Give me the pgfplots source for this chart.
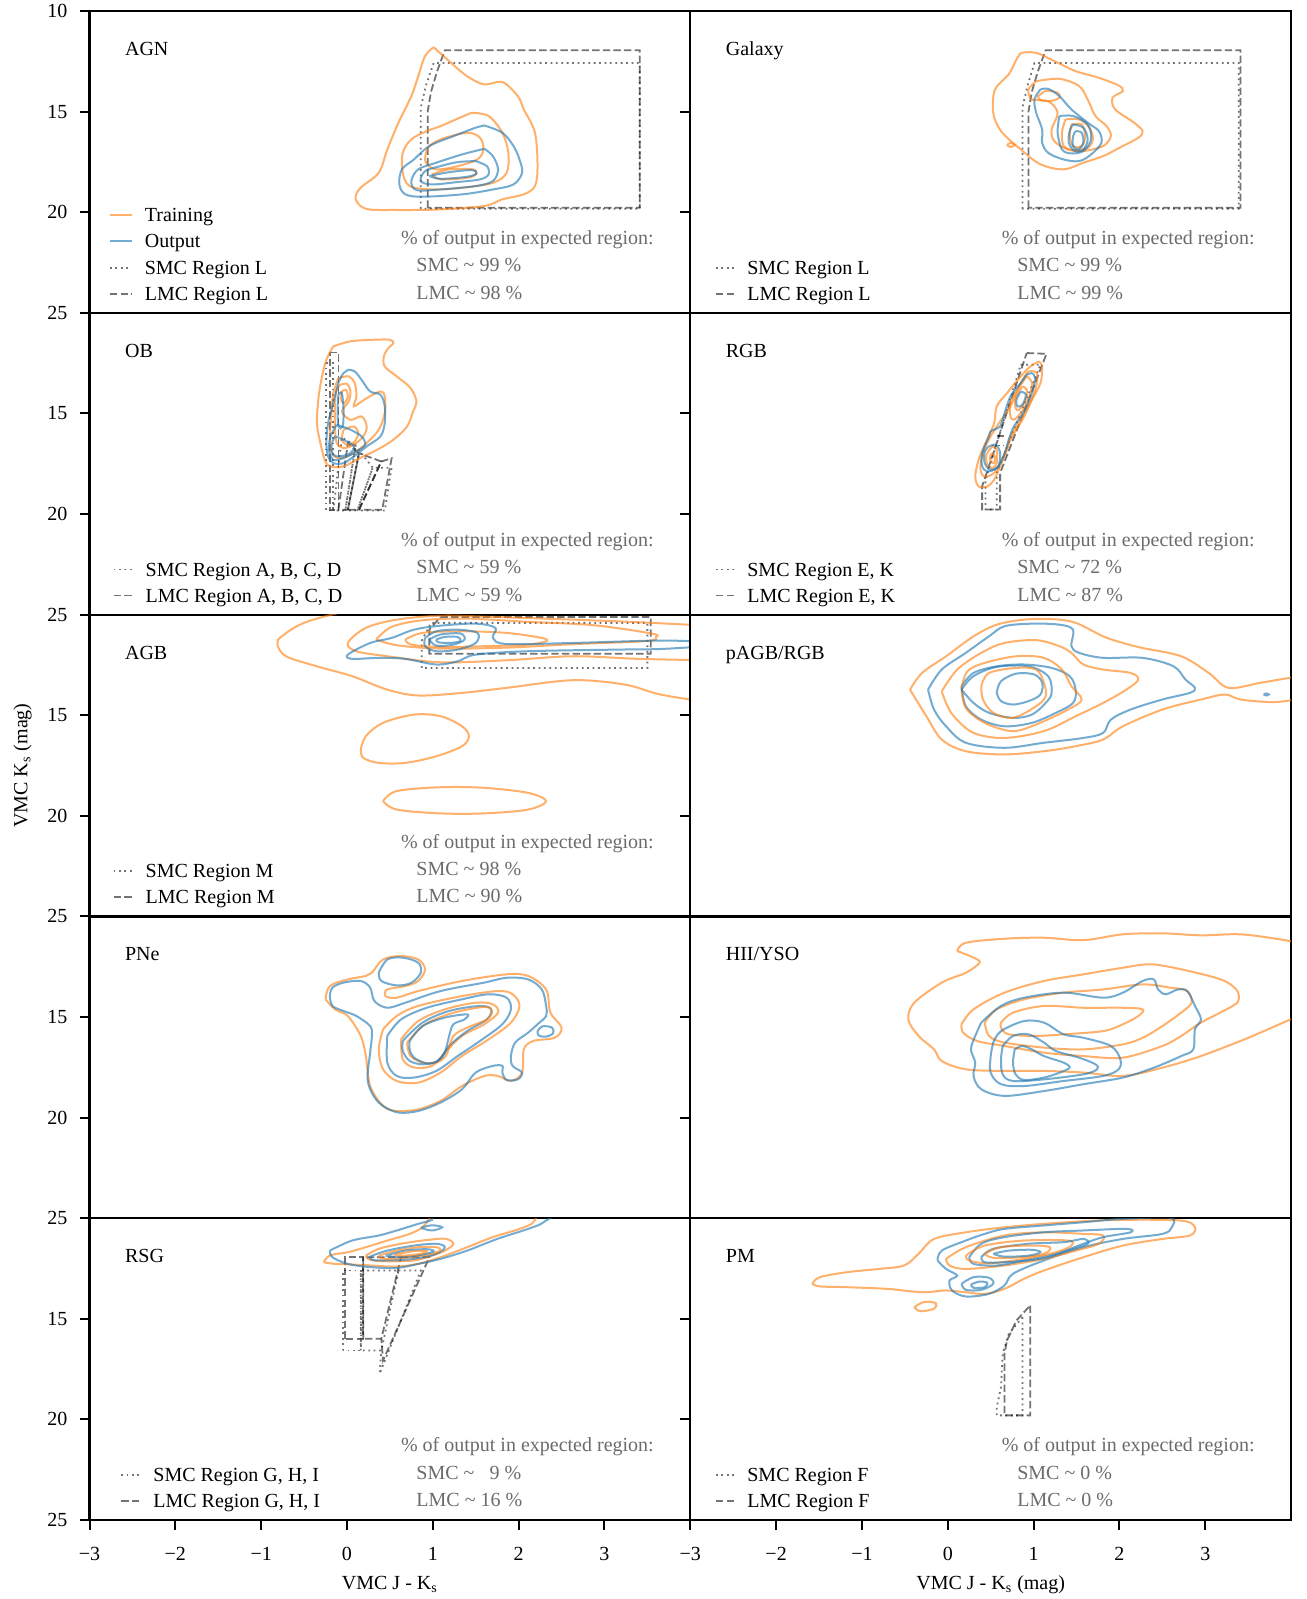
\documentclass[border=0pt]{standalone}
\usepackage{fontspec}
\setmainfont{Liberation Serif}
\usepackage{pgfplots}
\pgfplotsset{compat=1.18}
\usepgfplotslibrary{groupplots}
\usetikzlibrary{calc}

\definecolor{tabor}{HTML}{FF7F0E}
\definecolor{tabbl}{HTML}{1F77B4}

\pgfplotsset{
  train/.style={draw=tabor, draw opacity=0.62, line width=1.0pt, smooth, tension=0.55},
  outp/.style={draw=tabbl, draw opacity=0.62, line width=1.0pt, smooth, tension=0.55},
  smcreg/.style={draw=black, draw opacity=0.55, line width=0.9pt, dash pattern=on 0.9pt off 1.8pt},
  lmcreg/.style={draw=black, draw opacity=0.55, line width=0.9pt, dash pattern=on 3.7pt off 1.6pt},
  rightcol/.style={yticklabels={}},
}
\tikzset{
  legtxt/.style={anchor=base west, inner sep=0pt, font=\fontsize{10}{12}\selectfont},
  pcttxt/.style={legtxt, text=black!58},
}

% class name in the upper left corner of a panel
\newcommand{\classlabel}[1]{\node[legtxt] at (axis cs:-2.59,12.21) {#1};}
% fraction of the output inside the expected region
\newcommand{\pct}[2]{%
  \node[pcttxt] at (axis cs:0.625,21.60) {\% of output in expected region:};
  \node[pcttxt] at (axis cs:0.805,22.97) {SMC \textasciitilde\ #1 \%};
  \node[pcttxt] at (axis cs:0.805,24.33) {LMC \textasciitilde\ #2 \%};
}
% key for the SMC / LMC region outlines
\newcommand{\regleg}[5]{%
  \addplot[smcreg] coordinates {(#1,22.76) (#2,22.76)};
  \addplot[lmcreg] coordinates {(#1,24.05) (#2,24.05)};
  \node[legtxt] at (axis cs:#3,23.09) {#4};
  \node[legtxt] at (axis cs:#3,24.38) {#5};
}

\begin{document}
\begin{tikzpicture}
\begin{groupplot}[
  group style={group size=2 by 5, horizontal sep=0pt, vertical sep=0pt},
  scale only axis, width=300.4pt, height=150.9pt,
  xmin=-3, xmax=4, ymin=10, ymax=25, y dir=reverse,
  axis line style={line width=1.1pt},
  tick align=outside, major tick length=5pt,
  every tick/.style={black, line width=1pt},
  xtick={-3,...,3}, xticklabels={−3,−2,−1,0,1,2,3},
  xtick pos=left, ytick pos=left,
  ytick={15,20,25},
  tick label style={font=\fontsize{10}{12}\selectfont},
  xticklabel style={yshift=-5pt},
  yticklabel style={xshift=-2.5pt},
  /pgf/number format/assume math mode=true,
  label style={font=\fontsize{10}{12}\selectfont},
]

% ---------------- AGN ----------------
\nextgroupplot[xmajorticks=false, ytick={10,15,20,25}]
\coordinate (TL) at (axis cs:-3,10);
\classlabel{AGN}
\addplot[lmcreg] coordinates {(0.94,19.78) (0.94,15.0) (0.98,14.0) (1.05,13.0) (1.14,11.95) (3.41,11.95) (3.41,19.78) (0.94,19.78)};
\addplot[smcreg] coordinates {(0.86,19.83) (0.86,14.8) (0.92,13.7) (1.01,12.58) (3.41,12.58) (3.41,19.83) (0.86,19.83)};
\addplot[train] coordinates {(1.01,11.80) (1.19,12.49) (1.40,13.24) (1.60,13.65) (1.81,13.53) (1.99,14.23) (2.06,14.89) (2.19,16.05) (2.22,17.71) (2.19,18.70) (2.06,19.11) (1.81,19.36) (1.60,19.69) (1.09,19.86) (0.57,19.89) (0.22,19.83) (0.10,19.33) (0.16,18.78) (0.37,18.04) (0.47,16.88) (0.60,15.55) (0.75,14.23) (0.83,13.24) (0.91,12.24) (1.01,11.80)};
\addplot[train] coordinates {(1.45,15.06) (1.65,15.22) (1.81,16.05) (1.88,17.05) (1.86,18.04) (1.70,18.54) (1.35,18.78) (0.99,18.87) (0.73,18.70) (0.65,18.04) (0.65,17.05) (0.75,16.38) (0.93,15.97) (1.09,15.72) (1.29,15.35) (1.45,15.06)};
\addplot[train] coordinates {(0.96,16.71) (1.09,16.38) (1.40,16.05) (1.55,16.30) (1.59,16.88) (1.52,17.37) (1.29,17.71) (1.04,17.87) (0.92,17.54) (0.92,17.05) (0.96,16.71)};
\addplot[train] coordinates {(0.99,18.12) (1.19,17.87) (1.47,17.87) (1.50,18.12) (1.40,18.29) (1.09,18.37) (0.99,18.12)};
\addplot[outp] coordinates {(1.60,15.69) (1.81,16.05) (1.94,16.71) (2.01,17.38) (2.04,18.04) (1.94,18.62) (1.70,18.87) (1.35,19.11) (0.88,19.23) (0.68,19.11) (0.61,18.62) (0.64,17.87) (0.78,17.38) (0.96,16.71) (1.24,16.22) (1.50,15.80) (1.60,15.69)};
\addplot[outp] coordinates {(1.60,16.85) (1.70,17.21) (1.76,17.87) (1.70,18.45) (1.50,18.70) (1.09,18.87) (0.81,18.90) (0.75,18.45) (0.83,17.87) (1.04,17.54) (1.34,17.13) (1.60,16.85)};
\addplot[outp] coordinates {(1.50,17.46) (1.63,17.71) (1.65,18.12) (1.55,18.37) (1.29,18.50) (0.99,18.62) (0.86,18.45) (0.91,17.96) (1.09,17.71) (1.29,17.51) (1.50,17.46)};
\addplot[outp] coordinates {(0.96,18.20) (1.19,18.01) (1.45,17.91) (1.51,18.07) (1.40,18.24) (1.09,18.34) (0.96,18.20)};
\addplot[train] coordinates {(-2.76,20.15) (-2.51,20.15)};
\addplot[outp] coordinates {(-2.76,21.45) (-2.51,21.45)};
\node[legtxt] at (axis cs:-2.36,20.47) {Training};
\node[legtxt] at (axis cs:-2.36,21.77) {Output};
\regleg{-2.76}{-2.51}{-2.36}{SMC Region L}{LMC Region L}
\pct{99}{98}

% ---------------- Galaxy ----------------
\nextgroupplot[xmajorticks=false, rightcol]
\classlabel{Galaxy}
\addplot[lmcreg] coordinates {(0.94,19.78) (0.94,15.0) (0.98,14.0) (1.05,13.0) (1.14,11.95) (3.41,11.95) (3.41,19.78) (0.94,19.78)};
\addplot[smcreg] coordinates {(0.87,19.83) (0.87,14.8) (0.93,13.7) (1.01,12.58) (3.39,12.58) (3.39,19.83) (0.87,19.83)};
\addplot[train] coordinates {(0.85,12.08) (1.03,12.08) (1.28,12.57) (1.49,12.99) (1.76,13.32) (1.99,13.70) (2.04,13.98) (1.92,14.31) (1.95,14.89) (2.17,15.55) (2.27,15.97) (2.22,16.30) (2.04,16.71) (1.81,17.21) (1.58,17.54) (1.35,17.87) (1.08,17.62) (0.85,16.88) (0.62,15.97) (0.53,15.06) (0.55,13.90) (0.71,13.15) (0.80,12.41) (0.85,12.08)};
\addplot[train] coordinates {(0.69,16.66) (0.73,16.56) (0.78,16.66) (0.73,16.76) (0.69,16.66)};
\addplot[train] coordinates {(1.03,13.49) (1.30,13.37) (1.53,13.73) (1.63,14.40) (1.72,15.22) (1.85,15.72) (1.90,16.22) (1.81,16.71) (1.58,16.96) (1.40,16.88) (1.24,16.47) (1.21,15.89) (1.28,15.06) (1.17,14.48) (0.98,14.40) (0.94,13.90) (1.03,13.49)};
\addplot[train] coordinates {(1.05,14.26) (1.14,13.98) (1.28,14.06) (1.30,14.31) (1.19,14.48) (1.08,14.43) (1.05,14.26)};
\addplot[train] coordinates {(1.37,15.39) (1.53,15.39) (1.65,15.80) (1.69,16.38) (1.63,16.80) (1.46,16.91) (1.35,16.71) (1.33,16.05) (1.37,15.39)};
\addplot[train] coordinates {(1.44,15.64) (1.56,15.64) (1.60,16.22) (1.56,16.71) (1.46,16.71) (1.42,16.22) (1.44,15.64)};
\addplot[outp] coordinates {(1.08,13.90) (1.17,13.87) (1.30,14.23) (1.44,14.89) (1.63,15.55) (1.76,15.97) (1.79,16.55) (1.67,17.13) (1.53,17.46) (1.35,17.38) (1.17,17.05) (1.10,16.55) (1.10,15.89) (1.03,15.06) (1.01,14.40) (1.08,13.90)};
\addplot[outp] coordinates {(1.30,15.22) (1.46,15.22) (1.63,15.64) (1.67,16.38) (1.58,16.96) (1.44,17.08) (1.33,16.88) (1.28,16.05) (1.30,15.22)};
\addplot[outp] coordinates {(1.46,15.64) (1.58,15.80) (1.63,16.38) (1.58,16.88) (1.48,16.96) (1.41,16.55) (1.42,15.97) (1.46,15.64)};
\addplot[outp] coordinates {(1.49,15.97) (1.56,16.05) (1.58,16.55) (1.52,16.88) (1.46,16.71) (1.46,16.22) (1.49,15.97)};
\regleg{-2.70}{-2.47}{-2.34}{SMC Region L}{LMC Region L}
\pct{99}{99}

% ---------------- OB ----------------
\nextgroupplot[xmajorticks=false]
\classlabel{OB}
\addplot[lmcreg] coordinates {(-0.20,11.97) (-0.10,11.97) (-0.10,19.79) (-0.20,19.79) (-0.20,11.97)};
\addplot[lmcreg] coordinates {(-0.10,19.79) (0.01,16.48) (0.14,16.98) (0.01,19.79) (-0.10,19.79)};
\addplot[lmcreg] coordinates {(0.01,19.79) (0.14,16.98) (0.40,17.39) (0.14,19.79) (0.01,19.79)};
\addplot[lmcreg] coordinates {(0.14,19.79) (0.40,17.39) (0.52,17.23) (0.41,19.79) (0.14,19.79)};
\addplot[smcreg] coordinates {(-0.24,12.5) (-0.16,12.5) (-0.16,19.83) (-0.24,19.83) (-0.24,12.5)};
\addplot[smcreg] coordinates {(-0.16,19.83) (-0.06,16.2) (0.10,16.6) (-0.02,19.83) (-0.16,19.83)};
\addplot[smcreg] coordinates {(-0.02,19.83) (0.10,16.6) (0.30,17.7) (0.12,19.83) (-0.02,19.83)};
\addplot[smcreg] coordinates {(0.12,19.83) (0.30,17.7) (0.52,17.7) (0.44,19.83) (0.12,19.83)};
\addplot[train] coordinates {(-0.16,11.67) (0.04,11.42) (0.31,11.34) (0.50,11.34) (0.54,11.51) (0.48,11.76) (0.43,12.17) (0.44,12.67) (0.58,13.16) (0.74,13.74) (0.81,14.41) (0.77,14.90) (0.70,15.65) (0.54,16.31) (0.35,16.81) (0.15,17.22) (-0.04,17.63) (-0.20,17.63) (-0.26,17.30) (-0.31,16.47) (-0.35,15.48) (-0.33,14.16) (-0.29,13.16) (-0.24,12.33) (-0.16,11.67)};
\addplot[train] coordinates {(-0.10,13.25) (0.02,13.16) (0.09,13.49) (0.11,14.16) (0.08,14.65) (0.23,14.24) (0.39,13.91) (0.44,14.16) (0.44,14.98) (0.37,15.81) (0.23,16.47) (0.08,16.97) (-0.08,17.22) (-0.18,16.97) (-0.20,16.14) (-0.18,14.98) (-0.16,13.99) (-0.10,13.25)};
\addplot[train] coordinates {(-0.08,13.58) (0.00,13.53) (0.04,13.91) (0.02,14.41) (-0.06,14.90) (0.04,15.32) (0.17,15.15) (0.23,15.65) (0.19,16.14) (0.08,16.56) (-0.04,16.72) (-0.12,16.47) (-0.14,15.65) (-0.14,14.49) (-0.12,13.83) (-0.08,13.58)};
\addplot[train] coordinates {(-0.06,13.91) (-0.01,13.83) (0.01,14.16) (-0.03,14.49) (-0.07,14.32) (-0.06,13.91)};
\addplot[train] coordinates {(-0.04,15.81) (0.08,15.65) (0.13,15.98) (0.09,16.39) (0.00,16.56) (-0.06,16.31) (-0.04,15.81)};
\addplot[outp] coordinates {(0.02,12.83) (0.09,12.91) (0.17,13.33) (0.27,13.91) (0.39,14.07) (0.44,14.65) (0.44,15.48) (0.39,16.14) (0.23,16.64) (0.08,17.14) (-0.04,17.47) (-0.16,17.47) (-0.22,17.14) (-0.24,16.47) (-0.22,15.48) (-0.16,14.49) (-0.10,13.49) (-0.04,13.00) (0.02,12.83)};
\addplot[outp] coordinates {(-0.12,15.56) (-0.06,15.65) (0.04,15.81) (0.17,16.14) (0.21,16.56) (0.11,16.89) (-0.04,17.22) (-0.16,17.30) (-0.21,16.81) (-0.19,16.14) (-0.12,15.56)};
\addplot[outp] coordinates {(-0.14,16.14) (-0.04,16.31) (0.08,16.64) (0.04,16.97) (-0.08,17.14) (-0.16,17.05) (-0.18,16.56) (-0.14,16.14)};
\addplot[outp] coordinates {(-0.10,14.07) (-0.06,13.99) (-0.04,14.82) (-0.05,15.65) (-0.10,15.65) (-0.11,14.82) (-0.10,14.07)};
\regleg{-2.72}{-2.50}{-2.35}{SMC Region A, B, C, D}{LMC Region A, B, C, D}
\pct{59}{59}

% ---------------- RGB ----------------
\nextgroupplot[xmajorticks=false, rightcol]
\classlabel{RGB}
\addplot[lmcreg] coordinates {(0.92,12.0) (1.15,12.04) (0.61,17.96) (0.61,19.78) (0.40,19.78) (0.40,18.63) (0.92,12.0)};
\addplot[lmcreg] coordinates {(0.57,16.14) (0.69,16.14)};
\addplot[smcreg] coordinates {(0.85,12.58) (1.08,12.58) (0.57,17.96) (0.57,19.78) (0.44,19.78) (0.44,18.3) (0.85,12.58)};
\addplot[smcreg] coordinates {(0.52,16.6) (0.66,16.6)};
\addplot[train] coordinates {(1.06,12.42) (1.10,12.67) (1.08,13.49) (0.98,14.32) (0.85,15.31) (0.73,16.14) (0.69,16.80) (0.61,17.63) (0.54,18.29) (0.46,18.63) (0.36,18.63) (0.32,18.13) (0.36,17.30) (0.44,16.47) (0.54,15.48) (0.57,14.65) (0.69,13.99) (0.85,13.16) (0.96,12.67) (1.06,12.42)};
\addplot[train] coordinates {(0.94,12.91) (1.04,13.00) (1.02,13.82) (0.89,15.15) (0.73,16.31) (0.63,17.30) (0.54,17.96) (0.42,18.13) (0.38,17.63) (0.44,16.64) (0.57,15.65) (0.73,14.65) (0.85,13.49) (0.94,12.91)};
\addplot[train] coordinates {(0.92,13.16) (0.98,13.49) (0.94,14.32) (0.85,14.98) (0.77,15.31) (0.73,15.15) (0.73,14.49) (0.81,13.82) (0.92,13.16)};
\addplot[train] coordinates {(0.87,13.66) (0.92,13.82) (0.91,14.32) (0.83,14.82) (0.79,14.74) (0.79,14.24) (0.87,13.66)};
\addplot[train] coordinates {(0.52,16.64) (0.57,16.80) (0.57,17.47) (0.52,17.72) (0.46,17.55) (0.45,17.05) (0.52,16.64)};
\addplot[train] coordinates {(0.52,16.97) (0.55,17.14) (0.54,17.47) (0.50,17.38) (0.49,17.14) (0.52,16.97)};
\addplot[outp] coordinates {(0.98,13.00) (1.02,13.24) (0.98,13.99) (0.89,14.90) (0.77,15.65) (0.71,16.31) (0.65,17.14) (0.57,17.71) (0.46,17.88) (0.40,17.63) (0.40,16.97) (0.48,16.14) (0.50,15.89) (0.61,15.65) (0.65,15.15) (0.73,14.16) (0.85,13.49) (0.92,13.08) (0.98,13.00)};
\addplot[outp] coordinates {(0.85,13.91) (0.91,14.07) (0.87,14.57) (0.81,14.65) (0.80,14.32) (0.85,13.91)};
\addplot[outp] coordinates {(0.48,16.64) (0.56,16.56) (0.61,16.97) (0.59,17.63) (0.50,17.80) (0.43,17.47) (0.43,16.89) (0.48,16.64)};
\regleg{-2.70}{-2.47}{-2.34}{SMC Region E, K}{LMC Region E, K}
\pct{72}{87}

% ---------------- AGB ----------------
\nextgroupplot[xmajorticks=false, ylabel={VMC K\textsubscript{s} (mag)},
  ylabel style={at={($(axis cs:-3,17.5)+(-33.5pt,0pt)$)}, anchor=center}]
\classlabel{AGB}
\addplot[lmcreg] coordinates {(1.09,10.12) (3.54,10.12) (3.54,11.95) (0.96,11.95) (0.96,10.74) (1.09,10.12)};
\addplot[smcreg] coordinates {(0.87,12.65) (0.87,11.3) (0.98,10.41) (3.50,10.41) (3.50,12.65) (0.87,12.65)};
\addplot[train] coordinates {(0.30,9.50) (-0.45,10.33) (-0.76,11.08) (-0.81,11.49) (-0.71,12.07) (-0.35,12.57) (0.06,13.06) (0.47,13.73) (0.83,14.02) (1.34,13.89) (1.86,13.64) (2.63,13.26) (3.24,13.48) (3.65,13.97) (4.20,14.35)};
\addplot[train] coordinates {(4.20,10.55) (3.40,10.38) (2.63,10.25) (1.60,10.10) (1.09,10.05) (0.58,10.25) (0.22,10.66) (0.01,11.41) (0.11,11.82) (0.47,12.07) (1.09,12.37) (1.86,12.27) (2.63,12.07) (3.40,12.20) (4.20,12.27)};
\addplot[train] coordinates {(0.34,11.24) (0.52,10.61) (0.88,10.28) (1.40,10.20) (2.11,10.36) (2.88,10.53) (3.55,10.94) (3.60,11.11) (3.50,11.31) (2.63,11.47) (1.86,11.64) (1.09,11.69) (0.58,11.52) (0.34,11.24)};
\addplot[train] coordinates {(0.68,11.24) (0.88,10.91) (1.34,10.83) (1.86,10.91) (2.27,11.16) (2.32,11.32) (2.11,11.49) (1.60,11.57) (1.09,11.61) (0.75,11.49) (0.68,11.24)};
\addplot[outp] coordinates {(4.20,11.36) (3.65,11.29) (2.63,11.41) (1.86,11.46) (1.70,11.16) (1.73,10.66) (1.50,10.45) (1.09,10.55) (0.78,10.75) (0.52,11.16) (0.27,11.41) (0.01,11.99) (0.06,12.20) (0.37,12.15) (0.68,12.20) (1.04,12.48) (1.29,12.32) (1.50,11.99) (2.11,11.82) (3.14,11.74) (3.65,11.71) (4.20,11.57)};
\addplot[outp] coordinates {(0.91,11.16) (1.04,10.83) (1.29,10.75) (1.52,10.91) (1.50,11.41) (1.29,11.74) (1.04,11.82) (0.91,11.57) (0.91,11.16)};
\addplot[outp] coordinates {(0.96,11.24) (1.09,10.99) (1.32,10.94) (1.37,11.24) (1.24,11.49) (1.04,11.54) (0.96,11.24)};
\addplot[outp] coordinates {(1.04,11.24) (1.14,11.11) (1.29,11.11) (1.32,11.32) (1.19,11.41) (1.06,11.37) (1.04,11.24)};
\addplot[train] coordinates {(0.16,16.71) (0.22,16.04) (0.42,15.38) (0.78,14.97) (1.09,15.05) (1.34,15.55) (1.42,16.04) (1.34,16.54) (1.04,17.04) (0.68,17.37) (0.37,17.37) (0.19,17.12) (0.16,16.71)};
\addplot[train] coordinates {(0.42,19.27) (0.58,18.77) (1.09,18.58) (1.60,18.61) (2.11,18.86) (2.32,19.27) (2.11,19.69) (1.60,19.88) (1.09,19.88) (0.58,19.69) (0.42,19.27)};
\regleg{-2.72}{-2.50}{-2.35}{SMC Region M}{LMC Region M}
\pct{98}{90}

% ---------------- pAGB/RGB ----------------
\nextgroupplot[xmajorticks=false, rightcol]
\classlabel{pAGB/RGB}
\addplot[train] coordinates {(-0.44,13.73) (-0.30,12.90) (-0.02,12.07) (0.30,11.08) (0.57,10.50) (0.89,10.25) (1.21,10.22) (1.49,10.41) (1.81,11.08) (2.04,11.41) (2.27,11.66) (2.72,12.07) (3.04,12.90) (3.27,13.64) (3.64,13.39) (4.05,13.10) (4.30,13.00)};
\addplot[train] coordinates {(4.30,14.30) (4.05,14.25) (3.78,14.35) (3.41,14.22) (3.23,13.97) (2.95,14.22) (2.50,14.72) (2.04,15.55) (1.81,16.21) (1.49,16.54) (1.12,16.79) (0.66,16.95) (0.21,16.79) (-0.07,16.21) (-0.25,15.05) (-0.44,13.73)};
\addplot[outp] coordinates {(-0.23,13.73) (-0.07,12.73) (0.21,11.90) (0.48,11.08) (0.66,10.58) (0.98,10.45) (1.30,10.50) (1.46,10.75) (1.44,11.57) (1.53,11.90) (1.81,12.15) (2.27,12.15) (2.63,12.57) (2.77,13.23) (2.88,13.64) (2.82,13.89) (2.50,14.22) (2.13,14.72) (1.90,15.22) (1.81,15.88) (1.58,16.13) (1.12,16.37) (0.66,16.62) (0.21,16.37) (-0.02,15.55) (-0.16,14.72) (-0.23,13.73)};
\addplot[train] coordinates {(-0.07,13.81) (0.11,12.73) (0.39,11.90) (0.66,11.41) (1.03,11.27) (1.30,11.57) (1.44,11.90) (1.58,12.48) (1.81,12.73) (2.13,12.90) (2.22,13.23) (2.08,13.73) (1.81,14.39) (1.49,15.05) (1.12,15.79) (0.66,16.13) (0.30,15.88) (0.07,15.05) (-0.02,14.39) (-0.07,13.81)};
\addplot[outp] coordinates {(0.16,13.56) (0.30,12.90) (0.57,12.57) (0.89,12.48) (1.21,12.65) (1.42,13.06) (1.49,13.73) (1.46,14.39) (1.26,14.88) (0.98,15.38) (0.66,15.55) (0.39,15.22) (0.21,14.55) (0.16,13.56)};
\addplot[train] coordinates {(0.16,13.64) (0.23,12.81) (0.43,12.40) (0.80,12.07) (1.12,12.15) (1.33,12.73) (1.44,13.56) (1.56,14.22) (1.40,14.72) (1.03,15.46) (0.75,15.79) (0.43,15.38) (0.21,14.64) (0.16,13.64)};
\addplot[outp] coordinates {(0.16,13.73) (0.30,13.06) (0.57,12.60) (0.94,12.57) (1.17,13.06) (1.21,13.89) (1.14,14.39) (0.98,14.97) (0.76,15.13) (0.48,14.88) (0.30,14.39) (0.16,13.73)};
\addplot[train] coordinates {(0.39,13.56) (0.48,12.90) (0.80,12.65) (1.03,12.73) (1.12,13.39) (1.14,14.06) (1.03,14.55) (0.76,15.13) (0.53,14.88) (0.41,14.22) (0.39,13.56)};
\addplot[outp] coordinates {(0.57,13.89) (0.62,13.31) (0.80,12.93) (1.01,12.98) (1.10,13.39) (1.08,13.97) (0.94,14.30) (0.76,14.47) (0.62,14.30) (0.57,13.89)};
\addplot[outp] coordinates {(3.68,13.97) (3.71,13.92) (3.74,13.97) (3.71,14.02) (3.68,13.97)};

% ---------------- PNe ----------------
\nextgroupplot[xmajorticks=false]
\classlabel{PNe}
\addplot[train] coordinates {(-0.25,14.12) (-0.20,13.46) (0.01,13.13) (0.22,12.96) (0.29,12.80) (0.42,12.14) (0.63,11.97) (0.83,12.14) (0.91,12.63) (0.83,13.21) (0.68,13.46) (0.47,13.63) (0.45,13.96) (0.58,14.04) (0.83,13.71) (1.34,13.21) (1.86,12.88) (2.11,12.96) (2.32,13.63) (2.37,14.78) (2.50,15.53) (2.42,16.03) (2.17,16.19) (2.06,16.61) (2.04,17.76) (1.91,18.18) (1.76,17.93) (1.60,17.93) (1.34,18.43) (1.09,19.17) (0.83,19.59) (0.58,19.67) (0.42,19.42) (0.27,18.43) (0.22,16.94) (0.16,15.94) (0.01,14.95) (-0.14,14.62) (-0.25,14.12)};
\addplot[outp] coordinates {(0.37,12.80) (0.47,12.14) (0.65,12.05) (0.83,12.30) (0.86,12.80) (0.75,13.30) (0.58,13.43) (0.40,13.21) (0.37,12.80)};
\addplot[outp] coordinates {(-0.20,13.96) (-0.17,13.54) (-0.04,13.29) (0.16,13.21) (0.27,13.54) (0.32,14.21) (0.47,14.54) (0.68,14.29) (1.09,13.71) (1.60,13.29) (1.86,13.05) (2.11,13.13) (2.27,13.63) (2.32,14.45) (2.32,14.95) (2.22,15.36) (2.11,15.78) (1.96,16.27) (1.91,16.94) (1.93,17.43) (2.04,17.76) (1.99,18.10) (1.86,18.13) (1.81,17.76) (1.81,17.43) (1.70,17.43) (1.50,17.76) (1.34,18.59) (1.09,19.25) (0.83,19.67) (0.60,19.75) (0.42,19.42) (0.31,18.92) (0.24,18.10) (0.27,16.77) (0.29,15.94) (0.27,15.45) (0.11,14.95) (-0.04,14.70) (-0.17,14.45) (-0.20,13.96)};
\addplot[outp] coordinates {(2.22,15.70) (2.28,15.46) (2.39,15.53) (2.40,15.82) (2.31,15.98) (2.23,15.91) (2.22,15.70)};
\addplot[train] coordinates {(0.42,15.61) (0.58,14.95) (0.83,14.45) (1.34,13.96) (1.76,13.71) (1.93,13.87) (2.01,14.45) (1.91,15.28) (1.65,16.11) (1.34,16.94) (1.09,17.76) (0.83,18.26) (0.58,18.18) (0.42,17.60) (0.37,16.61) (0.42,15.61)};
\addplot[outp] coordinates {(0.47,15.94) (0.63,15.12) (0.93,14.54) (1.34,14.12) (1.65,13.87) (1.86,14.04) (1.91,14.62) (1.81,15.36) (1.55,16.19) (1.29,16.94) (1.04,17.68) (0.78,18.01) (0.58,17.93) (0.47,17.27) (0.47,15.94)};
\addplot[train] coordinates {(0.63,16.11) (0.83,15.20) (1.14,14.62) (1.50,14.29) (1.70,14.37) (1.76,14.78) (1.60,15.36) (1.34,15.94) (1.14,16.77) (0.99,17.43) (0.78,17.51) (0.65,17.10) (0.63,16.11)};
\addplot[outp] coordinates {(0.65,16.19) (0.88,15.28) (1.19,14.70) (1.55,14.45) (1.68,14.62) (1.63,15.12) (1.40,15.70) (1.19,16.44) (1.06,17.18) (0.88,17.35) (0.73,17.18) (0.65,16.69) (0.65,16.19)};
\addplot[train] coordinates {(0.70,16.28) (0.91,15.37) (1.24,14.79) (1.60,14.50) (1.69,14.70) (1.63,15.12) (1.40,15.53) (1.24,15.94) (1.17,16.77) (1.09,17.18) (0.91,17.30) (0.74,16.94) (0.70,16.28)};
\addplot[outp] coordinates {(0.73,16.19) (0.88,15.45) (1.14,15.03) (1.40,14.87) (1.37,15.12) (1.24,15.36) (1.19,15.94) (1.14,16.77) (1.06,17.18) (0.93,17.30) (0.78,17.02) (0.73,16.61) (0.73,16.19)};

% ---------------- HII/YSO ----------------
\nextgroupplot[xmajorticks=false, rightcol]
\classlabel{HII/YSO}
\addplot[train] coordinates {(0.11,11.72) (0.21,11.31) (0.66,11.11) (1.12,11.06) (1.58,11.18) (2.04,10.89) (2.50,10.84) (2.95,10.94) (3.41,10.89) (3.87,11.14) (4.20,11.40)};
\addplot[train] coordinates {(4.20,14.80) (4.07,14.98) (3.64,15.78) (3.41,16.19) (2.95,16.94) (2.50,17.52) (2.04,17.93) (1.58,17.76) (1.12,17.68) (0.66,17.68) (0.21,17.60) (-0.07,17.19) (-0.16,16.61) (-0.34,15.94) (-0.46,15.12) (-0.39,14.29) (-0.07,13.29) (0.21,12.80) (0.37,12.30) (0.30,12.05) (0.11,11.72)};
\addplot[train] coordinates {(0.16,15.36) (0.30,14.62) (0.66,13.79) (1.12,13.21) (1.58,12.88) (2.04,12.55) (2.36,12.38) (2.72,12.63) (3.18,13.13) (3.36,13.63) (3.39,14.12) (3.32,14.45) (2.95,15.28) (2.72,15.94) (2.50,16.44) (2.04,17.02) (1.58,16.94) (1.12,16.77) (0.66,16.44) (0.34,16.19) (0.18,15.78) (0.16,15.36)};
\addplot[train] coordinates {(0.43,15.28) (0.57,14.62) (0.89,14.12) (1.35,13.79) (1.81,13.63) (2.27,13.38) (2.59,13.54) (2.79,13.71) (2.84,14.29) (2.72,14.78) (2.50,15.45) (2.27,16.03) (2.04,16.36) (1.58,16.61) (1.12,16.52) (0.66,16.27) (0.48,15.94) (0.43,15.28)};
\addplot[train] coordinates {(0.62,15.28) (0.76,14.78) (1.12,14.45) (1.58,14.54) (2.04,14.54) (2.27,14.62) (2.22,14.95) (2.04,15.36) (1.81,15.70) (1.35,15.86) (1.03,15.94) (0.71,15.86) (0.62,15.53) (0.62,15.28)};
\addplot[outp] coordinates {(0.39,15.28) (0.62,14.45) (0.89,14.04) (1.35,13.79) (1.81,14.04) (2.04,13.79) (2.27,13.21) (2.40,13.13) (2.45,13.63) (2.54,13.87) (2.68,13.63) (2.79,13.71) (2.88,14.45) (2.95,15.12) (2.88,15.61) (2.86,16.61) (2.72,16.94) (2.40,17.52) (2.04,18.01) (1.58,18.34) (1.12,18.68) (0.66,18.92) (0.39,18.59) (0.30,17.93) (0.32,17.27) (0.27,16.61) (0.32,15.94) (0.39,15.28)};
\addplot[outp] coordinates {(0.53,16.27) (0.62,15.70) (0.89,15.20) (1.12,15.28) (1.35,15.86) (1.58,16.03) (1.90,16.44) (2.01,17.10) (1.99,17.60) (1.81,17.93) (1.35,18.18) (0.89,18.43) (0.62,18.34) (0.50,17.77) (0.50,16.94) (0.53,16.27)};
\addplot[outp] coordinates {(0.64,16.44) (0.76,15.94) (0.94,15.86) (1.12,16.27) (1.26,16.69) (1.53,17.02) (1.72,17.35) (1.74,17.60) (1.58,17.85) (1.12,18.10) (0.76,18.18) (0.64,17.85) (0.62,17.10) (0.64,16.44)};
\addplot[outp] coordinates {(0.78,16.61) (0.87,16.44) (0.98,16.61) (1.12,16.94) (1.35,17.27) (1.42,17.52) (1.30,17.77) (1.12,18.01) (0.89,18.13) (0.79,17.85) (0.76,17.27) (0.78,16.61)};

% ---------------- RSG ----------------
\nextgroupplot[xlabel={VMC J - K\textsubscript{s}},
  xlabel style={at={(axis cs:0.5,25)}, anchor=base, yshift=-34.8pt}]
\classlabel{RSG}
\addplot[lmcreg] coordinates {(-0.02,15.99) (-0.02,11.94) (0.19,11.94) (0.19,15.99) (-0.02,15.99)};
\addplot[lmcreg] coordinates {(0.19,15.99) (0.19,11.94) (0.63,11.94) (0.40,15.99) (0.19,15.99)};
\addplot[lmcreg] coordinates {(0.63,11.94) (0.96,11.94) (0.42,17.07) (0.40,15.99)};
\addplot[smcreg] coordinates {(-0.05,16.57) (-0.05,12.60) (0.16,12.60) (0.16,16.57) (-0.05,16.57)};
\addplot[smcreg] coordinates {(0.16,16.57) (0.16,12.60) (0.60,12.60) (0.40,16.57) (0.16,16.57)};
\addplot[smcreg] coordinates {(0.60,12.60) (0.86,12.60) (0.38,17.73) (0.40,16.57)};
\addplot[train] coordinates {(-0.27,12.19) (-0.20,11.85) (0.01,11.69) (0.22,11.44) (0.47,11.11) (0.73,10.78) (0.88,10.45) (0.96,10.03) (1.04,9.70) (2.11,9.70) (2.17,10.20) (2.01,10.53) (1.70,10.94) (1.40,11.44) (1.09,11.94) (0.83,12.27) (0.58,12.40) (0.27,12.35) (0.06,12.30) (-0.14,12.27) (-0.27,12.19)};
\addplot[outp] coordinates {(-0.20,11.61) (0.06,11.11) (0.37,10.86) (0.58,10.61) (0.83,10.28) (0.99,10.08) (1.09,9.70) (2.32,9.70) (2.29,10.20) (2.11,10.53) (1.75,11.03) (1.40,11.61) (1.09,12.02) (0.83,12.27) (0.58,12.47) (0.27,12.43) (0.01,12.27) (-0.17,11.94) (-0.20,11.61)};
\addplot[outp] coordinates {(0.86,10.48) (0.99,10.35) (1.11,10.45) (0.99,10.61) (0.86,10.48)};
\addplot[train] coordinates {(0.22,11.86) (0.37,11.52) (0.63,11.27) (0.88,11.11) (1.14,11.02) (1.24,11.27) (1.14,11.61) (0.99,11.86) (0.78,12.10) (0.47,12.14) (0.27,12.07) (0.22,11.86)};
\addplot[outp] coordinates {(0.27,11.90) (0.47,11.61) (0.78,11.36) (1.04,11.27) (1.14,11.44) (1.04,11.77) (0.78,12.02) (0.47,12.10) (0.29,12.07) (0.27,11.90)};
\addplot[train] coordinates {(0.37,11.86) (0.58,11.61) (0.83,11.44) (1.04,11.44) (1.09,11.61) (0.93,11.81) (0.68,11.97) (0.42,12.02) (0.37,11.86)};
\addplot[outp] coordinates {(0.45,11.86) (0.68,11.61) (0.93,11.54) (1.01,11.64) (0.88,11.81) (0.63,11.94) (0.45,11.86)};
\addplot[train] coordinates {(0.55,11.81) (0.78,11.64) (0.93,11.64) (0.86,11.77) (0.65,11.86) (0.55,11.81)};
\regleg{-2.63}{-2.40}{-2.26}{SMC Region G, H, I}{LMC Region G, H, I}
\pct{\phantom{1}9}{16}

% ---------------- PM ----------------
\nextgroupplot[rightcol, xlabel={VMC J - K\textsubscript{s} (mag)},
  xlabel style={at={(axis cs:0.5,25)}, anchor=base, yshift=-34.8pt}]
\coordinate (BR) at (axis cs:4,25);
\classlabel{PM}
\addplot[lmcreg] coordinates {(0.96,14.34) (0.96,19.80) (0.66,19.80) (0.66,16.74) (0.69,16.08) (0.80,15.08) (0.96,14.34)};
\addplot[smcreg] coordinates {(0.87,14.92) (0.87,19.80) (0.57,19.80) (0.57,19.40) (0.62,18.39) (0.64,16.74) (0.71,15.75) (0.87,14.92)};
\addplot[train] coordinates {(-1.58,13.26) (-1.49,12.93) (-1.17,12.68) (-0.80,12.52) (-0.51,12.35) (-0.34,11.77) (-0.16,11.03) (0.21,10.70) (0.66,10.45) (1.12,10.28) (1.58,10.15) (2.04,10.08) (2.72,10.12) (2.88,10.45) (2.82,10.86) (2.50,11.03) (2.04,11.36) (1.58,11.94) (1.12,12.60) (0.89,13.01) (0.66,13.51) (0.43,13.76) (0.21,13.68) (-0.02,13.59) (-0.25,13.68) (-0.44,13.63) (-0.71,13.51) (-1.17,13.43) (-1.49,13.39) (-1.58,13.26)};
\addplot[train] coordinates {(-0.39,14.42) (-0.28,14.17) (-0.14,14.22) (-0.16,14.50) (-0.32,14.62) (-0.39,14.42)};
\addplot[outp] coordinates {(-0.12,12.10) (-0.07,11.61) (0.21,11.11) (0.43,10.78) (0.66,10.53) (1.12,10.36) (1.58,10.20) (2.04,10.03) (2.59,9.98) (2.61,10.45) (2.50,10.78) (2.04,11.03) (1.58,11.44) (1.12,12.10) (0.76,12.76) (0.66,13.34) (0.48,13.76) (0.21,13.89) (0.05,13.59) (0.02,13.10) (0.11,12.85) (-0.02,12.52) (-0.12,12.10)};
\addplot[train] coordinates {(-0.02,12.02) (0.21,11.44) (0.66,10.86) (1.12,10.70) (1.58,10.78) (1.81,10.86) (1.76,11.27) (1.49,11.61) (1.12,12.02) (0.66,12.35) (0.21,12.52) (0.02,12.35) (-0.02,12.02)};
\addplot[outp] coordinates {(0.25,11.94) (0.39,11.27) (0.66,10.94) (1.12,10.70) (1.58,10.61) (2.08,10.53) (2.13,10.70) (1.81,10.94) (1.58,11.27) (1.26,11.77) (0.89,12.10) (0.57,12.35) (0.30,12.27) (0.25,11.94)};
\addplot[train] coordinates {(0.21,11.86) (0.43,11.36) (0.89,11.11) (1.40,11.11) (1.44,11.36) (1.26,11.69) (0.89,12.02) (0.48,12.24) (0.25,12.10) (0.21,11.86)};
\addplot[outp] coordinates {(0.39,11.94) (0.53,11.52) (0.94,11.27) (1.35,11.19) (1.58,11.03) (1.63,11.27) (1.40,11.61) (1.08,12.02) (0.66,12.19) (0.43,12.19) (0.39,11.94)};
\addplot[train] coordinates {(0.43,11.77) (0.62,11.44) (0.98,11.36) (1.19,11.44) (1.12,11.77) (0.85,11.94) (0.53,11.97) (0.43,11.77)};
\addplot[outp] coordinates {(0.53,11.77) (0.71,11.61) (0.98,11.57) (1.08,11.69) (0.94,11.86) (0.66,11.91) (0.53,11.77)};
\addplot[outp] coordinates {(0.16,13.26) (0.30,12.93) (0.48,12.96) (0.53,13.26) (0.39,13.56) (0.21,13.56) (0.16,13.26)};
\addplot[outp] coordinates {(0.27,13.29) (0.37,13.15) (0.46,13.21) (0.43,13.43) (0.30,13.46) (0.27,13.29)};
\regleg{-2.70}{-2.47}{-2.34}{SMC Region F}{LMC Region F}
\pct{0}{0}
\end{groupplot}
\path (TL) ++(-44.75pt,5.5pt) coordinate (P1);
\path (BR) ++(7.5pt,-39.5pt) coordinate (P2);
\pgfresetboundingbox
\path[use as bounding box] (P1) rectangle (P2);
\end{tikzpicture}
\end{document}
